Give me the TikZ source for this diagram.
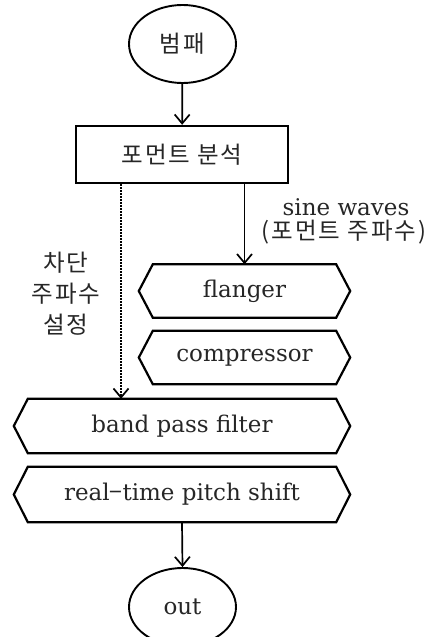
\documentclass[tikz,border=0pt]{standalone}
\usepackage{fontspec}
\setmainfont{DejaVu Serif}
\newfontfamily\kor[LetterSpace=8]{Noto Sans CJK KR}
\usetikzlibrary{arrows.meta,shapes.geometric}

% draws the six-sided outline around an effect node
\newcommand\hexframe[1]{%
  \draw[hexline] (#1.west) -- ([xshift=14pt]#1.north west) -- ([xshift=-14pt]#1.north east)
    -- (#1.east) -- ([xshift=-14pt]#1.south east) -- ([xshift=14pt]#1.south west) -- cycle;}

\begin{document}
\begin{tikzpicture}[x=1pt,y=-1pt,
  lat/.style={font=\fontsize{23}{26}\selectfont, text=black!85},
  ko/.style={font=\kor\fontsize{23.5}{31}\selectfont, text=black!85},
  term/.style={ellipse, draw, line width=1.9pt, minimum width=107pt, minimum height=78pt, inner sep=0pt},
  proc/.style={rectangle, draw, line width=2.4pt, minimum width=212pt, minimum height=57pt},
  fx/.style={rectangle, minimum height=53pt, inner sep=0pt},
  hexline/.style={line width=2.2pt, line join=miter},
  flow/.style={line width=1.7pt, -{Straight Barb[length=9pt,width=15pt]}},
  ctrl/.style={line width=1.7pt, dash pattern=on 1.6pt off 1.4pt, -{Straight Barb[length=9pt,width=15pt]}}
]
\useasboundingbox (0,0) rectangle (433,637);

% terminals and analysis step
\node[term, ko] (start) at (182.5,44) {범패};
\node[proc, ko] (an) at (182,154.5) {포먼트 분석};

% effect chain
\node[fx, lat, minimum width=211pt] (fl) at (244.5,291) {flanger};
\node[fx, lat, minimum width=211pt] (cp) at (244.5,357.5) {compressor};
\node[fx, lat, minimum width=336pt, minimum height=54pt] (bp) at (182,426) {band pass filter};
\node[fx, lat, minimum width=336pt, minimum height=55pt] (ps) at (182,494.5) {real{\kor\char"2212}time pitch shift};
\hexframe{fl}
\hexframe{cp}
\hexframe{bp}
\hexframe{ps}

\node[term, lat] (out) at (182.5,607) {out};

% labels
\node[lat] (sw) at (346,207) {sine waves};
\node[ko] (swk) at (344,232) {(포먼트 주파수)};
\node[ko, align=center] (cut) at (66,294) {차단\\주파수\\설정};

% connectors
\coordinate (cx) at (121,0);
\draw[flow] (start) -- (an);
\draw[flow] (an.south -| fl.north) -- (fl.north);
\draw[ctrl] (an.south -| cx) -- (cx |- bp.north);
\draw[flow] (ps.south) -- (out.north);
\end{tikzpicture}
\end{document}
